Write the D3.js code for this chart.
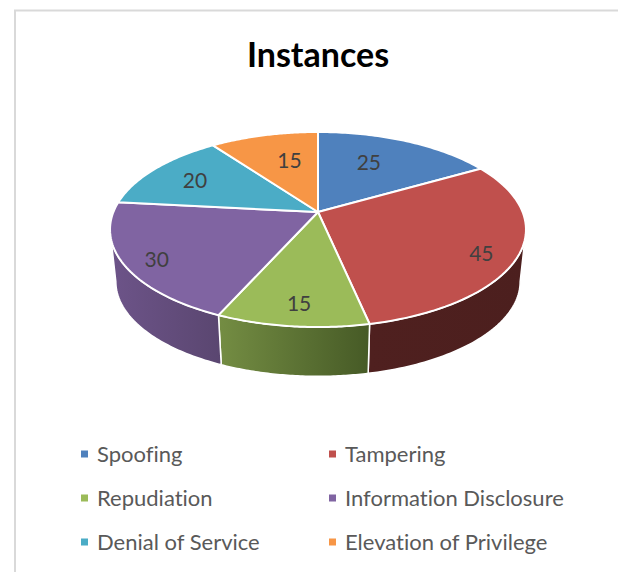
<!DOCTYPE html>
<html>
<head>
<meta charset="utf-8">
<script src="https://cdn.jsdelivr.net/npm/d3@7"></script>
<style>
  html, body { margin: 0; padding: 0; background: #fff; }
  svg { display: block; font-family: Lato, "Open Sans", sans-serif; font-variant-ligatures: none; }
</style>
</head>
<body>
<div id="chart"></div>
<script>
const categories = ["Spoofing", "Tampering", "Repudiation", "Information Disclosure", "Denial of Service", "Elevation of Privilege"];
const instances = [25, 45, 15, 30, 20, 15];
const sliceColors = ["#4f81bd", "#c0504d", "#9bbb59", "#8064a2", "#4bacc6", "#f79646"];
// wall shading, left to right
const wallLeft = ["#3b618e", "#4f201f", "#748d43", "#6d5489", "#387f93", "#b96f33"];
const wallRight = ["#3b618e", "#4c1f1e", "#465a26", "#5a4670", "#387f93", "#b96f33"];
// label nudges from the point at 62% of the radius
const labelNudge = [[-7, -4], [42, 16], [-4, 25], [-45, 16], [-19, -5], [7, -2]];

const width = 618, height = 572;

// tilted disc, the near side is drawn bigger than the far side
const pivot = {x: 318, y: 212};
const scaleX = 204.6, scaleY = 94.4, tilt = 0.1795;
const baseShrink = 0.972, baseDrop = 52.5;

function project(angle, r = 1) {
  const u = r * Math.sin(angle), v = -r * Math.cos(angle);
  const d = 1 - tilt * v;
  return [pivot.x + scaleX * u / d, pivot.y + scaleY * v / d];
}
function projectBase(angle) {
  const [x, y] = project(angle);
  return [pivot.x + (x - pivot.x) * baseShrink, pivot.y + (y - pivot.y) * baseShrink + baseDrop];
}
function arcAngles(a0, a1) {
  return d3.range(0, 61).map(i => a0 + (a1 - a0) * i / 60);
}

const line = d3.line();

const svg = d3.select("#chart")
  .append("svg")
    .attr("width", width)
    .attr("height", height);

// chart frame, runs off the right and bottom of the picture
svg.append("rect")
  .attr("x", 15)
  .attr("y", 10.5)
  .attr("width", 800)
  .attr("height", 800)
  .attr("fill", "#fff")
  .attr("stroke", "#d9d9d9")
  .attr("stroke-width", 2);

svg.append("text")
  .attr("x", 318)
  .attr("y", 67)
  .attr("text-anchor", "middle")
  .style("font-size", "34px")
  .style("font-weight", "bold")
  .style("fill", "#000")
  .text("Instances");

const slices = d3.pie().sort(null)(instances);

const defs = svg.append("defs");
slices.forEach((d, i) => {
  const grad = defs.append("linearGradient").attr("id", "wall" + i);
  grad.append("stop").attr("offset", "0%").attr("stop-color", wallLeft[i]);
  grad.append("stop").attr("offset", "100%").attr("stop-color", wallRight[i]);
});

// walls first, the rim shows between the two widest points of the disc
const frontStart = Math.acos(-tilt), frontEnd = 2 * Math.PI - frontStart;
const walls = slices
  .map((d, i) => ({
    i,
    a0: Math.max(d.startAngle, frontStart),
    a1: Math.min(d.endAngle, frontEnd)
  }))
  .filter(d => d.a1 > d.a0);

svg.append("g")
  .selectAll("path")
  .data(walls)
  .join("path")
    .attr("d", d => {
      const angles = arcAngles(d.a0, d.a1);
      return line(angles.map(a => project(a)).concat(angles.reverse().map(projectBase))) + "Z";
    })
    .attr("fill", d => `url(#wall${d.i})`)
    .attr("stroke", "#fff")
    .attr("stroke-width", 1.5)
    .attr("stroke-linejoin", "round");

svg.append("g")
  .selectAll("path")
  .data(slices)
  .join("path")
    .attr("d", d => line([[pivot.x, pivot.y]].concat(arcAngles(d.startAngle, d.endAngle).map(a => project(a)))) + "Z")
    .attr("fill", (d, i) => sliceColors[i])
    .attr("stroke", "#fff")
    .attr("stroke-width", 2)
    .attr("stroke-linejoin", "round");

svg.append("g")
  .selectAll("text")
  .data(slices)
  .join("text")
    .attr("x", (d, i) => project((d.startAngle + d.endAngle) / 2, 0.62)[0] + labelNudge[i][0])
    .attr("y", (d, i) => project((d.startAngle + d.endAngle) / 2, 0.62)[1] + labelNudge[i][1])
    .attr("text-anchor", "middle")
    .attr("dominant-baseline", "central")
    .style("font-size", "21px")
    .style("fill", "#404040")
    .text(d => d.data);

// legend, two columns and three rows
const legendX = d3.scalePoint().domain([0, 1]).range([81, 329]);
const legendY = d3.scalePoint().domain([0, 1, 2]).range([454, 542]);

const legend = svg.append("g")
  .selectAll("g")
  .data(categories)
  .join("g")
    .attr("transform", (d, i) => `translate(${legendX(i % 2)},${legendY(Math.floor(i / 2))})`);

legend.append("rect")
  .attr("x", 0)
  .attr("y", -3.5)
  .attr("width", 7)
  .attr("height", 7)
  .attr("fill", (d, i) => sliceColors[i]);

legend.append("text")
  .attr("x", 16)
  .attr("y", 8)
  .style("font-size", "22px")
  .style("fill", "#595959")
  .text(d => d);
</script>
</body>
</html>
